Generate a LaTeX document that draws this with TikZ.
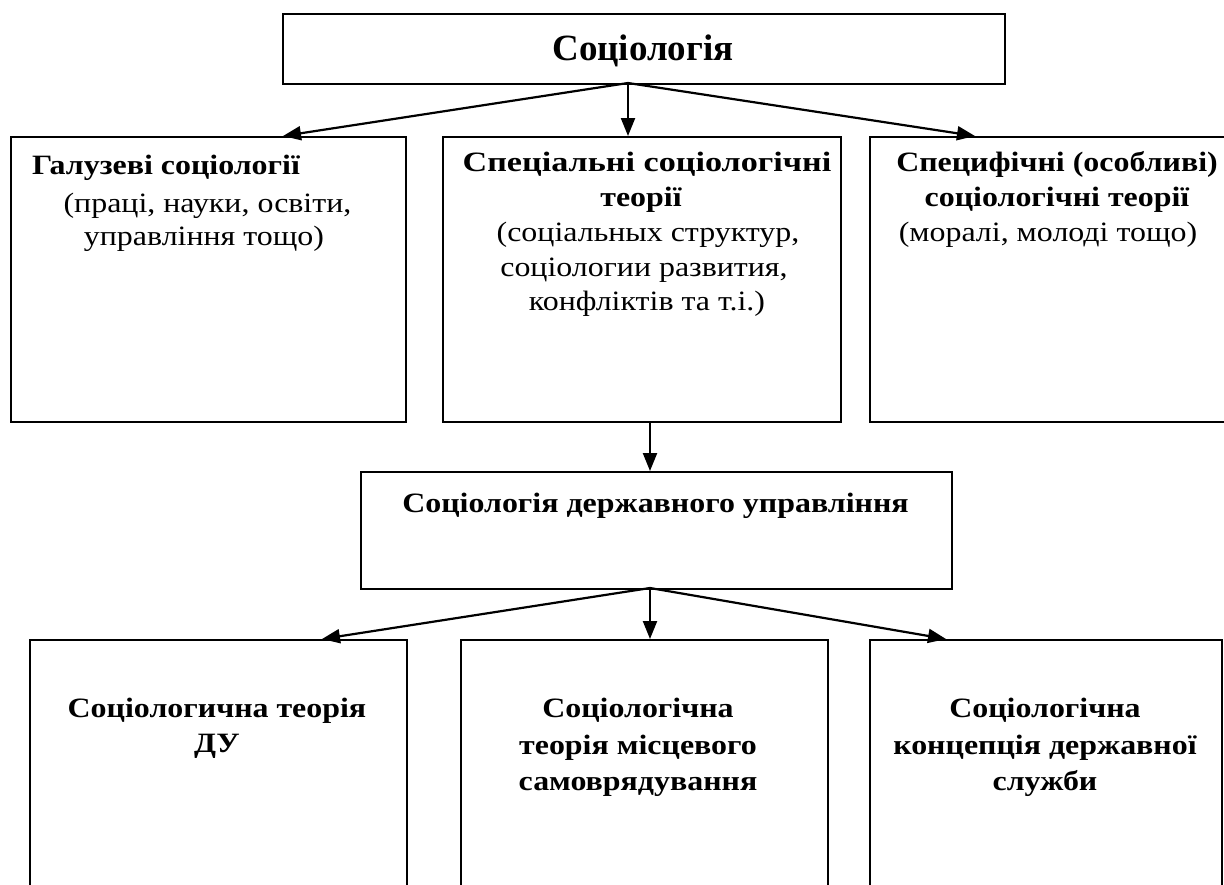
\documentclass[tikz,border=0pt]{standalone}
\usepackage{fontspec}
\setmainfont{Liberation Serif}
\newfontfamily\bodyfont{Liberation Serif}[FakeStretch=1.14]
\usetikzlibrary{arrows.meta}
\begin{document}
\begin{tikzpicture}[x=1pt,y=-1pt,
  box/.style={draw, line width=1.8pt, rectangle, inner sep=0pt, anchor=north west},
  arr/.style={line width=2.2pt, -{Triangle[length=18pt,width=14pt]}},
  txt/.style={font=\bodyfont\fontsize{28}{34}\selectfont, inner sep=0pt, anchor=base},
  txtb/.style={txt, font=\bodyfont\fontsize{28}{34}\selectfont\bfseries},
  ttl/.style={inner sep=0pt, anchor=base, font=\fontsize{37}{44}\selectfont\bfseries}]
\useasboundingbox (0,0) rectangle (1224,884);
\clip (0,0) rectangle (1224,884);
% boxes
\node[box, minimum width=722pt, minimum height=70pt] (top) at (282,13) {};
\node[box, minimum width=395pt, minimum height=285pt] (b1) at (10,136) {};
\node[box, minimum width=398pt, minimum height=285pt] (b2) at (442,136) {};
\node[box, minimum width=400pt, minimum height=285pt] (b3) at (869,136) {};
\node[box, minimum width=591pt, minimum height=117pt] (mid) at (360,471) {};
\node[box, minimum width=377pt, minimum height=280pt] (b4) at (29,639) {};
\node[box, minimum width=367pt, minimum height=280pt] (b5) at (460,639) {};
\node[box, minimum width=352pt, minimum height=280pt] (b6) at (869,639) {};
% texts
\node[ttl] (ttop) at (643,60) {Соціологія};
\node[txtb, anchor=base west] (t11) at (32,174) {Галузеві соціології};
\node[txt] (t12) at (207.5,212) {(праці, науки, освіти,};
\node[txt] (t13) at (204,245) {управління тощо)};
\node[txtb] (t21) at (647,171) {\scalebox{1.07}[1]{Спеціальні соціологічні}};
\node[txtb] (t22) at (641,206) {теорії};
\node[txt] (t23) at (648,241) {(соціальных структур,};
\node[txt] (t24) at (644,276) {соціологии развития,};
\node[txt] (t25) at (647,310) {конфліктів та т.і.)};
\node[txtb] (t31) at (1057,171) {Специфічні (особливі)};
\node[txtb] (t32) at (1057,206) {соціологічні теорії};
\node[txt] (t33) at (1048,241) {(моралі, молоді тощо)};
\node[txtb] (tm) at (655.5,512) {Соціологія державного управління};
\node[txtb] (t41) at (217,717) {Соціологична теорія};
\node[txtb] (t42) at (217,752) {ДУ};
\node[txtb] (t51) at (638,717) {Соціологічна};
\node[txtb] (t52) at (638,754) {теорія місцевого};
\node[txtb] (t53) at (638,790) {самоврядування};
\node[txtb] (t61) at (1045,717) {Соціологічна};
\node[txtb] (t62) at (1045,754) {концепція державної};
\node[txtb] (t63) at (1045,790) {служби};
% connector points
\coordinate (o1) at (628,83);
\coordinate (a1) at (283,136);
\coordinate (a2) at (628,136);
\coordinate (a3) at (975,136);
\coordinate (o2) at (650,421);
\coordinate (a4) at (650,471);
\coordinate (o3) at (650,588);
\coordinate (a5) at (322,639);
\coordinate (a6) at (650,639);
\coordinate (a7) at (946,639);
\draw[arr] (o1) -- (a1);
\draw[arr] (o1) -- (a2);
\draw[arr] (o1) -- (a3);
\draw[arr] (o2) -- (a4);
\draw[arr] (o3) -- (a5);
\draw[arr] (o3) -- (a6);
\draw[arr] (o3) -- (a7);
\end{tikzpicture}
\end{document}
